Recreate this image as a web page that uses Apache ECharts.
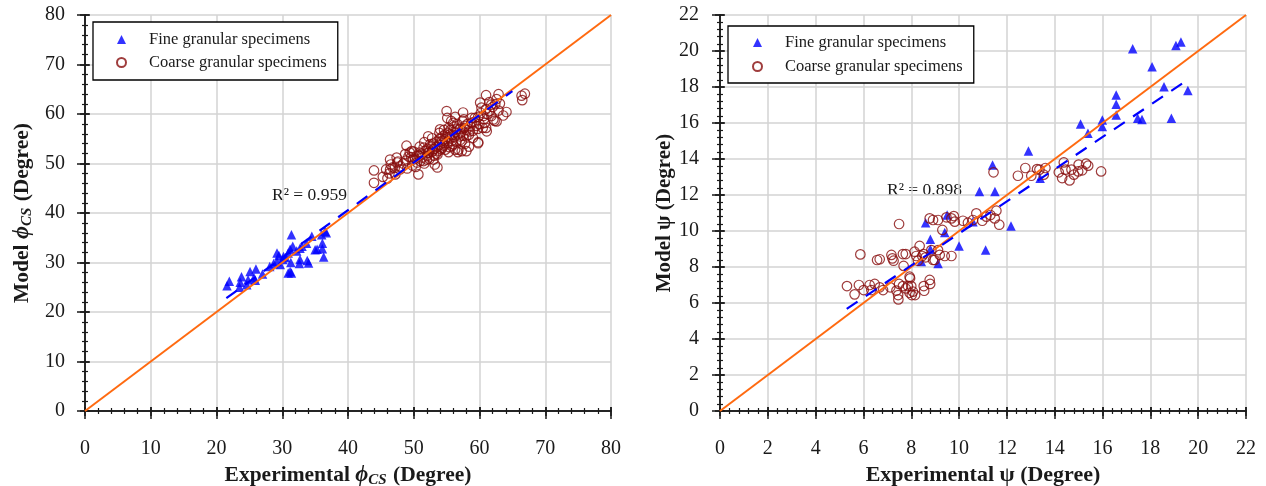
<!DOCTYPE html>
<html><head><meta charset="utf-8">
<script src="https://cdn.jsdelivr.net/npm/echarts@6/dist/echarts.min.js"></script>
<style>html,body{margin:0;padding:0;background:#fff}#c{width:1266px;height:486px}</style>
</head><body><div id="c"></div>
<script>
// ---------- DATA ----------
const seriesNames = ['Fine granular specimens', 'Coarse granular specimens'];
const leftRange = [0, 80, 10];
const rightRange = [0, 22, 2];
const leftR2 = 'R² = 0.959';
const rightR2 = 'R² = 0.898';

const fineLeft = [
[21.95,26.2],[21.6,25.3],[23.8,27.1],[23.6,26.0],[23.5,25.0],[25.1,28.2],[24.8,26.5],[24.6,25.5],
[26.0,28.7],[25.7,26.9],[25.9,26.4],[27.0,27.7],[29.2,31.9],[29.5,31.4],[28.1,29.2],[28.7,29.8],
[29.2,30.2],[30.2,31.2],[30.1,30.6],[29.7,29.6],[31.2,28.2],[31.4,27.9],[30.9,27.9],[31.4,35.6],
[30.9,31.9],[31.2,32.7],[31.6,33.3],[31.3,30.0],[32.7,32.9],[32.7,30.6],[32.6,29.8],[33.0,33.3],
[33.7,33.9],[33.8,30.4],[34.0,29.9],[34.5,35.3],[35.0,32.6],[35.3,32.7],[36.1,33.9],[36.1,32.8],
[36.3,31.1],[36.5,36.3],[36.7,36.0],[36.0,35.6],[32.2,32.3],[30.5,31.0]
];
const coarseLeft = [
[43.95,48.6],[43.95,46.1],[45.3,47.3],[46.4,50.8],[46.5,49.8],[46.4,48.8],[46.3,48.0],[47.4,51.2],
[47.5,50.2],[47.1,49.1],[47.9,48.8],[48.9,53.6],[48.7,51.9],[49.2,51.4],[49.4,52.2],[49.9,50.8],
[49.7,52.5],[50.4,51.5],[50.7,47.8],[50.9,52.2],[51.5,53.2],[51.5,50.5],[52.0,50.8],[52.2,55.5],
[52.2,52.2],[52.5,53.9],[53.0,52.9],[53.0,50.8],[53.2,49.8],[53.6,51.8],[54.0,56.9],[54.0,54.9],
[54.3,53.2],[54.5,54.2],[54.8,55.9],[55.0,60.6],[55.1,59.2],[55.3,57.2],[55.3,54.5],[55.5,55.9],
[55.8,53.5],[56.0,58.2],[56.3,52.8],[56.5,56.9],[56.8,52.8],[57.0,55.5],[57.3,54.5],[57.5,60.3],
[57.6,58.9],[57.8,57.6],[58.0,55.5],[58.0,52.5],[58.5,56.5],[58.8,58.2],[59.0,55.2],[59.3,59.2],
[59.7,57.0],[59.8,54.3],[60.1,62.3],[60.3,61.3],[60.6,59.6],[60.8,58.2],[61.0,63.8],[61.1,56.5],
[61.5,60.6],[61.8,61.9],[62.1,58.9],[62.3,58.6],[62.6,63.0],[62.9,64.0],[63.1,62.1],[62.9,60.7],
[63.6,59.7],[64.1,60.4],[66.4,63.7],[66.5,62.8],[66.9,64.1],
[50.2,51.0],[50.5,50.2],[50.8,51.6],[51.0,50.5],[51.2,52.0],[51.3,51.2],[51.6,50.0],[51.8,52.6],
[52.0,51.5],[52.1,53.0],[52.3,52.2],[52.4,50.9],[52.6,53.5],[52.8,52.4],[53.0,54.0],[53.1,51.6],
[53.2,53.0],[53.4,52.0],[53.5,54.4],[53.6,53.4],[53.8,52.6],[53.9,55.0],[54.0,53.8],[54.2,52.9],
[54.3,54.6],[54.4,55.5],[54.6,53.6],[54.7,54.9],[54.8,52.8],[55.0,55.3],[55.1,54.1],[55.2,56.2],
[55.4,53.3],[55.5,55.0],[55.6,56.8],[55.8,54.6],[55.9,55.8],[56.0,53.9],[56.1,57.4],[56.2,55.4],
[56.4,56.3],[56.5,54.4],[56.6,58.0],[56.8,55.9],[57.0,57.0],[57.1,54.8],[57.2,56.2],[57.4,58.6],
[57.5,55.6],[57.7,57.2],[57.8,54.0],[58.0,56.8],[58.2,58.0],[58.4,55.8],[58.6,57.5],[58.8,59.2],
[59.0,56.6],[59.2,58.4],[59.5,57.6],[59.8,59.4],[60.0,58.0],[60.2,60.2],[60.5,57.2],[60.7,59.0],
[61.0,61.0],[61.2,60.0],[61.5,62.4],[61.8,59.6],[62.0,61.4],[62.4,62.0],[49.6,51.3],[49.8,49.6],
[50.0,52.4],[50.3,49.3],[48.4,50.0],[48.0,49.4],[47.6,50.4],[48.8,50.6],[49.0,49.0],[46.8,49.2],
[47.2,47.8],[45.8,48.8],[46.0,47.0],[53.6,49.2],[55.3,52.3],[56.7,52.3],[57.3,52.5],[53.9,56.2],
[54.6,56.8],[55.7,58.6],[56.3,59.4],[52.8,55.1],[51.6,54.3],[50.9,53.4],[59.8,54.1],[58.4,53.4],
[61.0,57.2],[62.6,58.5]
];
const fitLeft = [[21.5,22.8],[65.0,64.6]];
const diagLeft = [[0,0],[80,80]];

const fineRight = [
[17.26,20.13],[19.07,20.31],[19.28,20.5],[18.07,19.13],[18.57,18.02],[19.57,17.8],[16.57,17.56],
[16.57,17.04],[16.57,16.44],[17.47,16.26],[17.65,16.2],[18.88,16.26],[15.08,15.94],[15.99,16.17],
[15.99,15.8],[15.39,15.43],[12.9,14.44],[11.4,13.67],[11.5,12.19],[13.39,12.93],[12.17,10.28],
[10.85,12.2],[8.6,10.46],[8.8,9.54],[8.8,8.98],[8.42,8.3],[9.12,8.2],[9.4,9.91],[9.5,10.89],
[10.0,9.17],[10.58,10.52],[11.11,8.94]
];
const coarseRight = [
[5.31,6.94],[5.63,6.48],[5.81,7.0],[5.87,8.7],[6.01,6.72],[6.26,7.0],[6.33,6.72],[6.47,7.06],
[6.57,8.39],[6.68,8.43],[6.68,6.87],[6.82,6.72],[7.12,6.87],[7.17,8.67],[7.21,8.48],[7.26,8.35],
[7.38,6.69],[7.45,6.44],[7.49,7.06],[7.49,10.39],[7.65,8.72],[7.77,8.72],[7.68,8.06],[7.65,6.94],
[7.77,6.81],[7.86,6.94],[7.93,7.46],[7.93,6.57],[8.0,6.94],[8.07,6.63],[8.14,8.85],[8.21,8.61],
[8.28,8.35],[8.35,9.17],[8.46,8.61],[8.52,8.72],[8.6,8.54],[8.52,6.94],[8.77,7.28],[8.84,8.94],
[8.91,8.39],[8.98,8.39],[9.12,8.94],[9.19,8.67],[9.4,8.61],[9.68,8.61],[8.77,10.7],[8.91,10.61],
[9.12,10.61],[9.3,10.06],[9.47,10.76],[9.68,10.7],[9.78,10.83],[9.82,10.52],[10.16,10.57],
[10.37,10.46],[10.58,10.61],[10.72,10.98],[10.97,10.57],[11.14,10.8],[11.31,10.89],[11.49,10.7],
[11.56,11.13],[11.68,10.35],[7.46,6.2],[8.02,6.44],[8.16,6.44],[7.95,7.37],[8.54,6.68],[8.79,7.06],
[11.44,13.26],[12.46,13.07],[12.77,13.5],[13.02,13.07],[13.26,13.44],[13.36,13.41],[13.61,13.5],
[13.54,13.13],[14.38,13.81],[14.17,13.26],[14.31,12.94],[14.45,13.41],[14.62,12.81],[14.7,13.41],
[14.8,13.13],[15.0,13.69],[14.98,13.31],[15.15,13.37],[15.31,13.74],[15.4,13.63],[15.94,13.31]
];
const fitRight = [[5.3,5.67],[19.45,18.3]];
const diagRight = [[0,0],[22,22]];

// ---------- STYLE / BUILD ----------
const FONT = 'Liberation Serif';
const TXT = '#1a1a1a';
const FRAME = '#1a1a1a';
const GRIDC = '#d3d3d3';
const grids = [
  {left: 85, top: 15, width: 526, height: 396, outerBoundsMode: 'none', containLabel: false},
  {left: 720, top: 15, width: 526, height: 396, outerBoundsMode: 'none', containLabel: false}
];
const xAxes = [], yAxes = [];
function nameStyle(fs) {
  return {fontFamily: FONT, fontSize: fs, fontWeight: 'bold', color: TXT,
    rich: {
      b: {fontFamily: FONT, fontSize: fs, fontWeight: 'bold', color: TXT},
      phi: {fontFamily: FONT, fontSize: fs + 1, fontWeight: 'bold', fontStyle: 'italic', color: TXT},
      sub: {fontFamily: FONT, fontSize: Math.round(fs * 0.7), fontWeight: 'bold', fontStyle: 'italic', color: TXT,
            verticalAlign: 'bottom', padding: [Math.round(fs * 0.45), 1, 0, 0]}
    }};
}
function addAxes(g, range, xName, yName, xfs, yfs, yNameGap, yLabMargin) {
  const [mn, mx, iv] = range;
  const base = {gridIndex: g, type: 'value', min: mn, max: mx, interval: iv};
  const line = {show: true, lineStyle: {color: FRAME, width: 1.5}};
  const noLine = {show: false};
  const noLabel = {show: false};
  const noSplit = {show: false};
  const xMain = xAxes.length;
  xAxes.push(Object.assign({}, base, {position: 'bottom', offset: 3, axisLine: line,
    axisTick: {show: true, inside: false, length: 8, lineStyle: {color: FRAME, width: 1.5}},
    axisLabel: {show: true, margin: 25, fontFamily: FONT, fontSize: 20, color: TXT},
    splitLine: {show: true, lineStyle: {color: GRIDC, width: 1.5}},
    name: xName, nameLocation: 'middle', nameGap: 42,
    nameTextStyle: nameStyle(xfs)}));
  xAxes.push(Object.assign({}, base, {position: 'bottom', offset: 3, axisLine: noLine,
    axisTick: {show: true, inside: true, length: 4, lineStyle: {color: FRAME, width: 1.5}},
    minorTick: {show: true, splitNumber: 5, length: 3, lineStyle: {color: FRAME, width: 1.2}},
    axisLabel: noLabel, splitLine: noSplit}));
  xAxes.push(Object.assign({}, base, {position: 'top', axisLine: line,
    axisTick: {show: true, inside: false, length: 4, lineStyle: {color: FRAME, width: 1.5}},
    axisLabel: noLabel, splitLine: noSplit}));
  xAxes.push(Object.assign({}, base, {position: 'top', axisLine: noLine,
    axisTick: {show: true, inside: true, length: 5, lineStyle: {color: FRAME, width: 1.5}},
    minorTick: {show: true, splitNumber: 5, length: 3, lineStyle: {color: FRAME, width: 1.2}},
    axisLabel: noLabel, splitLine: noSplit}));
  const yMain = yAxes.length;
  yAxes.push(Object.assign({}, base, {position: 'left', axisLine: line,
    axisTick: {show: true, inside: false, length: 8, lineStyle: {color: FRAME, width: 1.5}},
    axisLabel: {show: true, margin: yLabMargin, fontFamily: FONT, fontSize: 20, color: TXT},
    splitLine: {show: true, lineStyle: {color: GRIDC, width: 1.5}},
    name: yName, nameLocation: 'middle', nameGap: yNameGap, nameRotate: 90,
    nameTextStyle: nameStyle(yfs)}));
  yAxes.push(Object.assign({}, base, {position: 'left', axisLine: noLine,
    axisTick: {show: true, inside: true, length: 5, lineStyle: {color: FRAME, width: 1.5}},
    minorTick: {show: true, splitNumber: 5, length: 3, lineStyle: {color: FRAME, width: 1.2}},
    axisLabel: noLabel, splitLine: noSplit}));
  yAxes.push(Object.assign({}, base, {position: 'right', axisLine: line,
    axisTick: {show: true, inside: false, length: 4, lineStyle: {color: FRAME, width: 1.5}},
    axisLabel: noLabel, splitLine: noSplit}));
  yAxes.push(Object.assign({}, base, {position: 'right', axisLine: noLine,
    axisTick: {show: true, inside: true, length: 5, lineStyle: {color: FRAME, width: 1.5}},
    minorTick: {show: true, splitNumber: 5, length: 3, lineStyle: {color: FRAME, width: 1.2}},
    axisLabel: noLabel, splitLine: noSplit}));
  return [xMain, yMain];
}
const [lx, ly] = addAxes(0, leftRange,
  '{b|Experimental }{phi|ϕ}{sub|CS}{b| (Degree)}', '{b|Model }{phi|ϕ}{sub|CS}{b| (Degree)}',
  21.5, 21.5, 50, 20);
const [rx, ry] = addAxes(1, rightRange,
  'Experimental ψ (Degree)', 'Model ψ (Degree)', 22, 21, 43, 21);

function scatterSeries(name, data, xi, yi, fine) {
  return fine ? {
    type: 'scatter', name, data, xAxisIndex: xi, yAxisIndex: yi,
    symbol: 'triangle', symbolSize: 9.5, itemStyle: {color: '#0000ff'}, z: 3
  } : {
    type: 'scatter', name, data, xAxisIndex: xi, yAxisIndex: yi,
    symbol: 'circle', symbolSize: 9.5,
    itemStyle: {color: 'rgba(255,255,255,0)', borderColor: '#870c0c', borderWidth: 1.2}, z: 3
  };
}
function lineSeries(data, xi, yi, dashed) {
  return {
    type: 'line', data, xAxisIndex: xi, yAxisIndex: yi, symbol: 'none', silent: true,
    lineStyle: dashed ? {color: '#0000ff', width: 2.2, type: [13, 10]} : {color: '#ff6a10', width: 2},
    z: dashed ? 5 : 4
  };
}
const legendText = {fontFamily: FONT, fontSize: 16.5, color: TXT, padding: [0, 0, 0, 18]};

const option = {
  animation: false,
  backgroundColor: '#ffffff',
  grid: grids,
  xAxis: xAxes,
  yAxis: yAxes,
  legend: [
    {left: 93, top: 22, orient: 'vertical', data: seriesNames, itemWidth: 9, itemHeight: 9,
     itemGap: 6, padding: [9, 11, 9, 23], borderColor: '#000', borderWidth: 1.3,
     backgroundColor: '#fff', textStyle: legendText, selectedMode: false},
    {left: 728, top: 26, orient: 'vertical', data: seriesNames, itemWidth: 9, itemHeight: 9,
     itemGap: 7, padding: [8, 11, 8, 24], borderColor: '#000', borderWidth: 1.3,
     backgroundColor: '#fff', textStyle: legendText, selectedMode: false}
  ],
  graphic: [
    {type: 'text', left: 272, top: 186, style: {text: leftR2, font: '17.5px "Liberation Serif"', fill: TXT}},
    {type: 'text', left: 887, top: 181, style: {text: rightR2, font: '17.5px "Liberation Serif"', fill: TXT}}
  ],
  series: [
    scatterSeries(seriesNames[0], fineLeft, lx, ly, true),
    scatterSeries(seriesNames[1], coarseLeft, lx, ly, false),
    lineSeries(diagLeft, lx, ly, false),
    lineSeries(fitLeft, lx, ly, true),
    scatterSeries(seriesNames[0], fineRight, rx, ry, true),
    scatterSeries(seriesNames[1], coarseRight, rx, ry, false),
    lineSeries(diagRight, rx, ry, false),
    lineSeries(fitRight, rx, ry, true)
  ]
};
const chart = echarts.init(document.getElementById('c'), null, {renderer: 'canvas'});
chart.setOption(option);
</script></body></html>
